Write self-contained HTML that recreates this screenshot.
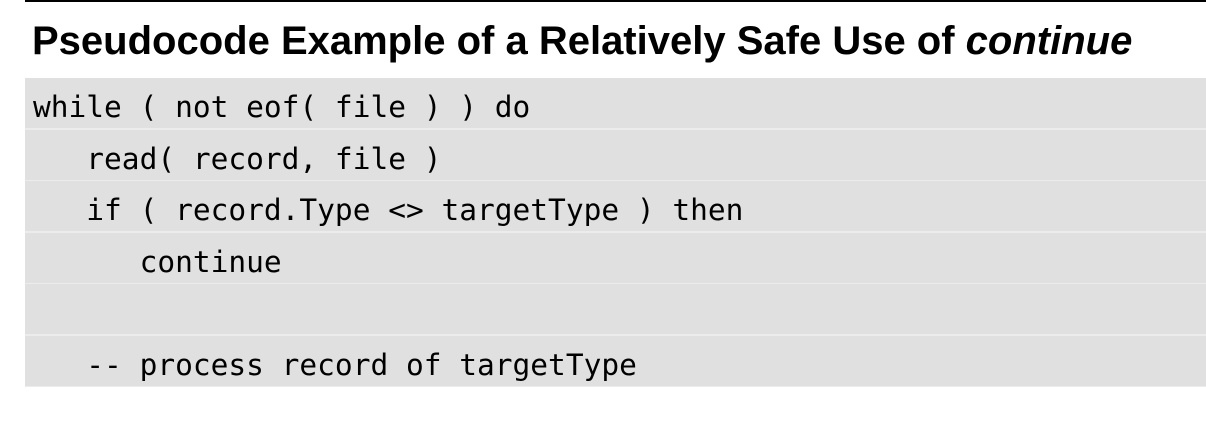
<!DOCTYPE html>
<html><head><meta charset="utf-8"><style>
html,body{margin:0;padding:0;background:#fff;width:1206px;height:432px;overflow:hidden;position:relative}
.top{position:absolute;left:25px;top:0;width:1181px;height:2px;background:#000}
h1{position:absolute;left:32px;top:19px;margin:0;font:bold 40px "Liberation Sans",sans-serif;white-space:nowrap;color:#000}
.box{position:absolute;left:25px;top:78px;width:1181px}
.row{height:50px;margin-bottom:1.5px;background:#e0e0e0;font:29.5px "DejaVu Sans Mono",monospace;line-height:58px;padding-left:8px;white-space:pre;color:#000;overflow:hidden}
.box{background:#ececec}
</style></head><body>
<div class="top"></div>
<h1>Pseudocode Example of a Relatively Safe Use of <i>continue</i></h1>
<div class="box">
<div class="row">while ( not eof( file ) ) do</div>
<div class="row">   read( record, file )</div>
<div class="row">   if ( record.Type &lt;&gt; targetType ) then</div>
<div class="row">      continue</div>
<div class="row"> </div>
<div class="row">   -- process record of targetType</div>
</div>
</body></html>
